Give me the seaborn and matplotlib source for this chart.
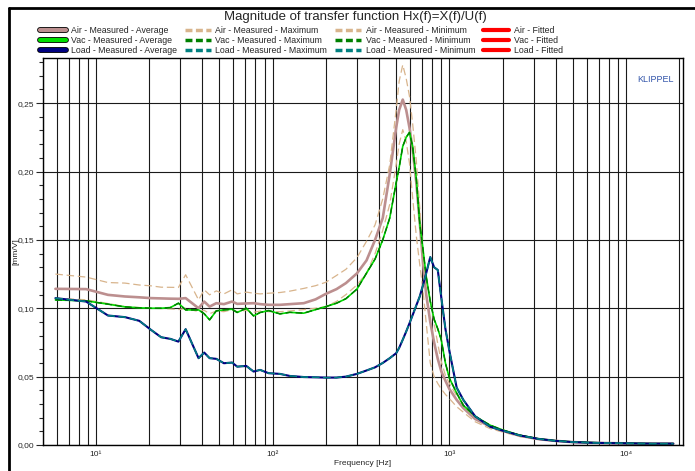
import matplotlib
matplotlib.use("Agg")
import matplotlib.pyplot as plt
import matplotlib.patheffects as pe
import seaborn as sns
from matplotlib.lines import Line2D
from matplotlib.ticker import FixedLocator, FuncFormatter, MultipleLocator, NullFormatter

# --------------------------
# Data
# --------------------------
freq = [5.9, 8.8, 11.7, 14.6, 17.6, 20.5, 23.4, 26.4, 29.3, 32.2,
        38.1, 41.0, 44.0, 48, 53, 59, 63, 71, 78, 85,
        95, 110, 125, 150, 175, 200, 230, 260, 300, 340,
        380, 420, 460, 500, 520, 545, 570, 595, 620, 650,
        680, 710, 740, 780, 820, 860, 900, 950, 1000, 1100,
        1200, 1400, 1700, 2000, 2500, 3200, 4000, 5000, 7000, 10000,
        14000, 18500]

air_avg = [0.1142, 0.1140, 0.1098, 0.1086, 0.1080, 0.1074, 0.1072, 0.1070, 0.1069, 0.1074,
           0.1000, 0.1049, 0.1012, 0.1037, 0.1030, 0.1049, 0.1032, 0.1035, 0.1037, 0.1030,
           0.1025, 0.1025, 0.1030, 0.1037, 0.1065, 0.1105, 0.1140, 0.1184, 0.1255, 0.1350,
           0.1500, 0.1660, 0.1980, 0.2320, 0.2450, 0.2526, 0.2450, 0.2320, 0.2160, 0.1920,
           0.1630, 0.1330, 0.1100, 0.0900, 0.0750, 0.0630, 0.0540, 0.0470, 0.0410, 0.0330,
           0.0270, 0.0190, 0.0135, 0.0105, 0.0068, 0.0043, 0.0030, 0.0021, 0.0015, 0.0012,
           0.0010, 0.0010]

air_max = [0.1250, 0.1228, 0.1188, 0.1184, 0.1170, 0.1164, 0.1154, 0.1153, 0.1152, 0.1245,
           0.1061, 0.1135, 0.1098, 0.1127, 0.1105, 0.1135, 0.1105, 0.1118, 0.1110, 0.1105,
           0.1110, 0.1115, 0.1125, 0.1145, 0.1165, 0.1190, 0.1240, 0.1285, 0.1370, 0.1490,
           0.1610, 0.1800, 0.2050, 0.2450, 0.2660, 0.2780, 0.2680, 0.2550, 0.2350, 0.2080,
           0.1740, 0.1380, 0.1200, 0.1060, 0.0890, 0.0740, 0.0610, 0.0510, 0.0450, 0.0360,
           0.0300, 0.0210, 0.0145, 0.0110, 0.0072, 0.0045, 0.0031, 0.0022, 0.0016, 0.0012,
           0.0010, 0.0010]

air_min = [0.1074, 0.1062, 0.1035, 0.1012, 0.1005, 0.1000, 0.0998, 0.0995, 0.0990, 0.1000,
           0.0975, 0.0985, 0.0960, 0.0980, 0.0975, 0.0990, 0.0975, 0.0985, 0.0970, 0.0980,
           0.0975, 0.0975, 0.0980, 0.0990, 0.1000, 0.1012, 0.1050, 0.1100, 0.1170, 0.1257,
           0.1400, 0.1570, 0.1760, 0.2050, 0.2200, 0.2306, 0.2220, 0.2060, 0.1810, 0.1530,
           0.1320, 0.1130, 0.0890, 0.0600, 0.0500, 0.0450, 0.0410, 0.0370, 0.0340, 0.0280,
           0.0240, 0.0170, 0.0120, 0.0095, 0.0062, 0.0040, 0.0028, 0.0020, 0.0014, 0.0011,
           0.0010, 0.0010]

vac_avg = [0.1061, 0.1054, 0.1030, 0.1010, 0.1003, 0.1000, 0.1000, 0.1005, 0.1037, 0.0988,
           0.0988, 0.0960, 0.0915, 0.0981, 0.0988, 0.0993, 0.0969, 0.1000, 0.0944, 0.0969,
           0.0983, 0.0959, 0.0970, 0.0964, 0.0990, 0.1012, 0.1037, 0.1070, 0.1140, 0.1257,
           0.1360, 0.1500, 0.1660, 0.1916, 0.2030, 0.2184, 0.2250, 0.2286, 0.2180, 0.1950,
           0.1620, 0.1428, 0.1232, 0.1050, 0.0920, 0.0850, 0.0770, 0.0600, 0.0490, 0.0380,
           0.0290, 0.0210, 0.0145, 0.0110, 0.0072, 0.0045, 0.0031, 0.0022, 0.0016, 0.0012,
           0.0010, 0.0010]

load_avg = [0.1074, 0.1049, 0.0947, 0.0935, 0.0908, 0.0842, 0.0788, 0.0776, 0.0756, 0.0847,
            0.0635, 0.0676, 0.0635, 0.0630, 0.0598, 0.0603, 0.0573, 0.0578, 0.0537, 0.0549,
            0.0525, 0.0520, 0.0505, 0.0497, 0.0495, 0.0493, 0.0493, 0.0500, 0.0520, 0.0545,
            0.0568, 0.0600, 0.0635, 0.0671, 0.0710, 0.0770, 0.0830, 0.0890, 0.0950, 0.1020,
            0.1086, 0.1170, 0.1257, 0.1374, 0.1300, 0.1280, 0.1080, 0.0850, 0.0690, 0.0420,
            0.0330, 0.0210, 0.0134, 0.0105, 0.0070, 0.0044, 0.0030, 0.0021, 0.0015, 0.0012,
            0.0010, 0.0010]

# max / min traces of Vac and Load lie on top of their averages in the picture
vac_max = vac_avg
vac_min = vac_avg
load_max = load_avg
load_min = load_avg

x_ticks = [10, 100, 1000, 10000]
x_tick_labels = ["10¹", "10²", "10³", "10⁴"]

# --------------------------
# Style
# --------------------------
sns.set_style("white")
plt.rcParams["font.family"] = ["Liberation Sans", "DejaVu Sans"]

c_air, c_air_d = "#bc8f8f", "#d8b48c"
c_vac, c_vac_d = "#00dd00", "#008000"
c_load, c_load_d = "#000080", "#008080"
dash = (0, (6, 3))

fig = plt.figure(figsize=(6.95, 4.71), dpi=100)
ax = fig.add_axes([42.7 / 695, 1 - 445 / 471, (683 - 42.7) / 695, (445 - 58) / 471])
ax.set_xscale("log")

series = [
    (air_avg, c_air, 1.9, "-"), (air_max, c_air_d, 0.9, dash), (air_min, c_air_d, 0.9, dash),
    (vac_avg, c_vac, 1.2, "-"), (vac_max, c_vac_d, 0.8, dash), (vac_min, c_vac_d, 0.8, dash),
    (load_avg, c_load, 1.5, "-"), (load_max, c_load_d, 0.9, dash), (load_min, c_load_d, 0.9, dash),
]
for vals, col, lw, ls in series:
    sns.lineplot(x=freq, y=vals, color=col, lw=lw, linestyle=ls, ax=ax, legend=False)

# --------------------------
# Axes
# --------------------------
ax.set_xlim(5, 21000)
ax.set_ylim(0, 0.283)
ax.xaxis.set_major_locator(FixedLocator(x_ticks))
ax.xaxis.set_major_formatter(FuncFormatter(lambda v, p: x_tick_labels[x_ticks.index(v)] if v in x_ticks else ""))
ax.xaxis.set_minor_locator(FixedLocator([m * 10 ** e for e in range(0, 5) for m in range(2, 10)]))
ax.xaxis.set_minor_formatter(NullFormatter())
ax.yaxis.set_major_locator(MultipleLocator(0.05))
ax.yaxis.set_minor_locator(MultipleLocator(0.01))
ax.yaxis.set_major_formatter(FuncFormatter(lambda v, p: f"{v:.2f}".replace(".", ",")))

ax.grid(True, which="major", axis="both", color="#1a1a1a", lw=0.8)
ax.grid(True, which="minor", axis="x", color="#1a1a1a", lw=0.8)
ax.tick_params(axis="x", which="both", length=0, labelsize=6, pad=4)
ax.tick_params(axis="y", which="major", left=True, length=5, width=0.8, labelsize=6, pad=1)
ax.tick_params(axis="y", which="minor", left=True, length=3, width=0.8)
for s in ax.spines.values():
    s.set_color("black")
    s.set_linewidth(1.0)

ax.set_xlabel("Frequency [Hz]", fontsize=6, labelpad=2)
ax.set_ylabel("[mm/V]", fontsize=6)
ax.yaxis.set_label_coords((19.5 - 42.7) / 640.3, 0.5)
ax.text(0.985, 0.945, "KLIPPEL", transform=ax.transAxes, ha="right", va="center",
        fontsize=6.5, color="#3355aa")

fig.text(355 / 695, 1 - 17 / 471, "Magnitude of transfer function Hx(f)=X(f)/U(f)", ha="center",
         va="center", fontsize=9.5)

# --------------------------
# Legend (3 rows: Air / Vac / Load)
# --------------------------
outline = [pe.Stroke(linewidth=4.2, foreground="black"), pe.Normal()]
handles = [
    Line2D([], [], color=c_air, lw=3, path_effects=outline),
    Line2D([], [], color=c_vac, lw=3, path_effects=outline),
    Line2D([], [], color=c_load, lw=3, path_effects=outline),
    Line2D([], [], color=c_air_d, lw=2.5, linestyle=(0, (2, 1))),
    Line2D([], [], color=c_vac_d, lw=2.5, linestyle=(0, (2, 1))),
    Line2D([], [], color=c_load_d, lw=2.5, linestyle=(0, (2, 1))),
    Line2D([], [], color=c_air_d, lw=2.5, linestyle=(0, (2, 1))),
    Line2D([], [], color=c_vac_d, lw=2.5, linestyle=(0, (2, 1))),
    Line2D([], [], color=c_load_d, lw=2.5, linestyle=(0, (2, 1))),
    Line2D([], [], color="red", lw=3),
    Line2D([], [], color="red", lw=3),
    Line2D([], [], color="red", lw=3),
]
labels = ["Air - Measured - Average", "Vac - Measured - Average", "Load - Measured - Average",
          "Air - Measured - Maximum", "Vac - Measured - Maximum", "Load - Measured - Maximum",
          "Air - Measured - Minimum", "Vac - Measured - Minimum", "Load - Measured - Minimum",
          "Air - Fitted", "Vac - Fitted", "Load - Fitted"]
fig.legend(handles, labels, ncol=4, loc="upper left", bbox_to_anchor=(40 / 695, 1 - 26 / 471),
           frameon=False, fontsize=6.3, handlelength=3.0, handletextpad=0.5,
           labelspacing=0.12, columnspacing=0.9, borderaxespad=0, borderpad=0)

# outer frame of the export window
fig.add_artist(Line2D([9 / 695, 9 / 695], [0, 1 - 8 / 471], color="black", lw=2, transform=fig.transFigure))
fig.add_artist(Line2D([9 / 695, 1], [1 - 8 / 471, 1 - 8 / 471], color="black", lw=2, transform=fig.transFigure))

fig.savefig("out.png", dpi=100)
